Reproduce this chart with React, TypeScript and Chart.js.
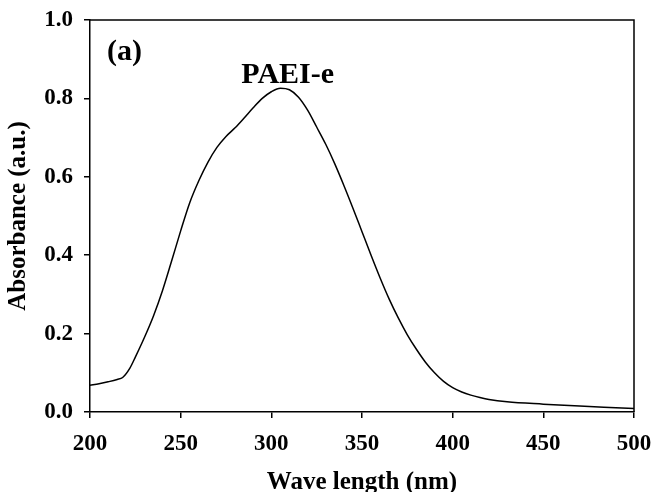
import React, { useEffect, useRef } from "react";
import { Chart, registerables } from "chart.js";

Chart.register(...registerables);

const wavelengths = [200, 205, 210, 215, 218, 222, 225, 230, 235, 240, 245, 250, 255, 260, 265, 270, 275, 280, 285, 290, 295, 300, 305, 310, 315, 320, 325, 330, 335, 340, 345, 350, 355, 360, 365, 370, 375, 380, 385, 390, 395, 400, 405, 410, 415, 420, 430, 450, 470, 490, 500];
const absorbance = [0.068, 0.072, 0.077, 0.083, 0.088, 0.112, 0.14, 0.19, 0.245, 0.31, 0.385, 0.462, 0.534, 0.59, 0.637, 0.675, 0.703, 0.725, 0.75, 0.776, 0.8, 0.817, 0.826, 0.822, 0.803, 0.77, 0.727, 0.683, 0.633, 0.578, 0.52, 0.46, 0.4, 0.342, 0.288, 0.24, 0.197, 0.16, 0.127, 0.1, 0.078, 0.062, 0.051, 0.043, 0.037, 0.032, 0.026, 0.02, 0.015, 0.011, 0.009];
const xTicks = [200, 250, 300, 350, 400, 450, 500];
const yTicks = [0, 0.2, 0.4, 0.6, 0.8, 1.0];
const panelLabel = "(a)";
const seriesLabel = "PAEI-e";

const FONT = "'Liberation Serif', 'Times New Roman', serif";

const annotations = {
  id: "annotations",
  afterDraw(chart: any) {
    const { ctx, chartArea, scales } = chart;
    ctx.save();
    ctx.strokeStyle = "#000";
    ctx.lineWidth = 1.5;
    ctx.beginPath();
    ctx.moveTo(chartArea.left, chartArea.top);
    ctx.lineTo(chartArea.right, chartArea.top);
    ctx.lineTo(chartArea.right, chartArea.bottom);
    ctx.stroke();
    ctx.fillStyle = "#000";
    ctx.textBaseline = "alphabetic";
    ctx.font = `bold 30px ${FONT}`;
    ctx.textAlign = "left";
    ctx.fillText(panelLabel, scales.x.getPixelForValue(209.4), scales.y.getPixelForValue(0.897));
    ctx.font = `bold 30px ${FONT}`;
    ctx.textAlign = "center";
    ctx.fillText(seriesLabel, scales.x.getPixelForValue(309), scales.y.getPixelForValue(0.84));
    ctx.restore();
  },
};

export default function App() {
  const ref = useRef<HTMLCanvasElement>(null);
  useEffect(() => {
    document.body.style.margin = "0";
    const chart = new Chart(ref.current!, {
      type: "line",
      data: {
        datasets: [
          {
            data: wavelengths.map((w, i) => ({ x: w, y: absorbance[i] })),
            borderColor: "#000",
            borderWidth: 1.5,
            pointRadius: 0,
            cubicInterpolationMode: "monotone",
            fill: false,
          },
        ],
      },
      options: {
        animation: false,
        responsive: false,
        maintainAspectRatio: false,
        layout: { padding: { left: 0, top: 20, right: 20, bottom: 0 } },
        plugins: { legend: { display: false }, tooltip: { enabled: false } },
        scales: {
          x: {
            type: "linear",
            min: 200,
            max: 500,
            afterBuildTicks: (s: any) => {
              s.ticks = xTicks.map((v) => ({ value: v }));
            },
            afterFit: (s: any) => {
              s.height = 80;
              s.paddingLeft = 0;
              s.paddingRight = 0;
            },
            border: { display: true, color: "#000", width: 1.5 },
            grid: { drawOnChartArea: false, drawTicks: true, tickLength: 6, color: "#000", lineWidth: 1.5 },
            ticks: { color: "#000", font: { family: FONT, size: 23, weight: "bold" }, padding: 12, maxRotation: 0 },
            title: {
              display: true,
              text: "Wave length (nm)",
              color: "#000",
              font: { family: FONT, size: 25, weight: "bold" },
              padding: { top: 10, bottom: -6 },
            },
          },
          y: {
            type: "linear",
            min: 0,
            max: 1,
            afterBuildTicks: (s: any) => {
              s.ticks = yTicks.map((v) => ({ value: v }));
            },
            afterFit: (s: any) => {
              s.width = 90;
              s.paddingTop = 0;
              s.paddingBottom = 0;
            },
            border: { display: true, color: "#000", width: 1.5 },
            grid: { drawOnChartArea: false, drawTicks: true, tickLength: 6, color: "#000", lineWidth: 1.5 },
            ticks: {
              color: "#000",
              font: { family: FONT, size: 23, weight: "bold" },
              padding: 11,
              callback: (v: any) => Number(v).toFixed(1),
            },
            title: {
              display: true,
              text: "Absorbance (a.u.)",
              color: "#000",
              font: { family: FONT, size: 25, weight: "bold" },
              padding: { top: 4, bottom: 0 },
            },
          },
        },
      },
      plugins: [annotations],
    } as any);
    return () => chart.destroy();
  }, []);
  return (
    <div style={{ width: 654, height: 492 }}>
      <canvas ref={ref} width={654} height={492} style={{ display: "block" }} />
    </div>
  );
}
